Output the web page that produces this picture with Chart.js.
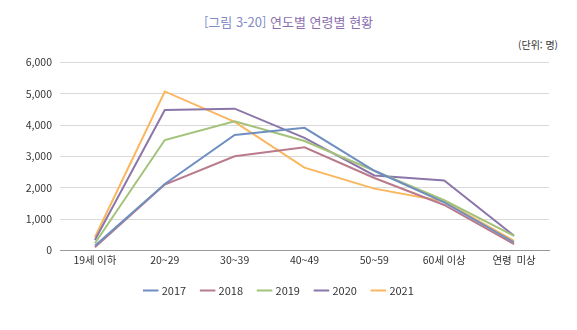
<!DOCTYPE html>
<html lang="ko">
<head>
<meta charset="utf-8">
<script src="https://cdn.jsdelivr.net/npm/chart.js@4.4.0/dist/chart.umd.min.js"></script>
<style>
    html, body { margin: 0; padding: 0; background: #fff; }
    #wrap { position: relative; width: 577px; height: 330px; }
    #title {
        position: absolute; left: 0; top: 12px; width: 577px; text-align: center;
        font-family: 'Noto Sans CJK KR', sans-serif; font-size: 13px; color: #8a6fb0;
    }
    #title span { color: #7f8cc8; }
    #unit {
        position: absolute; right: 19px; top: 37px;
        font-family: 'Noto Sans CJK KR', sans-serif; font-size: 10px; color: #333;
    }
    #chart { position: absolute; left: 0; top: 48px; }
</style>
</head>
<body>
<div id="wrap">
    <div id="title"><span>[그림 3-20]</span> 연도별 연령별 현황</div>
    <div id="unit">(단위: 명)</div>
    <canvas id="chart" width="577" height="258"></canvas>
</div>
<script>
    'use strict';

    // ========================================
    // DATA
    // ========================================

    const categories = ['19세 이하', '20~29', '30~39', '40~49', '50~59', '60세 이상', '연령  미상'];
    const years = ['2017', '2018', '2019', '2020', '2021'];

    const values2017 = [150, 2120, 3680, 3910, 2540, 1530, 260];
    const values2018 = [100, 2100, 3000, 3290, 2310, 1450, 200];
    const values2019 = [230, 3520, 4120, 3490, 2540, 1600, 460];
    const values2020 = [330, 4480, 4520, 3590, 2390, 2230, 470];
    const values2021 = [420, 5070, 4100, 2640, 1970, 1560, 300];

    const yTicks = [0, 1000, 2000, 3000, 4000, 5000, 6000];

    const lineColors = ['#6f8fc0', '#b97b8c', '#a3c27a', '#8b76aa', '#fbb660'];

    // ========================================
    // CHART
    // ========================================

    const seriesValues = [values2017, values2018, values2019, values2020, values2021];

    const datasets = years.map((year, i) => ({
        label: year,
        data: seriesValues[i],
        borderColor: lineColors[i],
        backgroundColor: lineColors[i],
        borderWidth: 2,
        pointRadius: 0,
        tension: 0,
        fill: false
    }));

    new Chart(document.getElementById('chart'), {
        type: 'line',
        data: { labels: categories, datasets: datasets },
        options: {
            responsive: false,
            animation: false,
            layout: { padding: { left: 10, right: 28, top: 0, bottom: 0 } },
            plugins: {
                legend: {
                    position: 'bottom',
                    labels: {
                        usePointStyle: true,
                        pointStyle: 'line',
                        boxWidth: 26,
                        padding: 16,
                        color: '#333',
                        font: { family: "'Noto Sans CJK KR', sans-serif", size: 11 }
                    }
                },
                tooltip: { enabled: false }
            },
            scales: {
                x: {
                    offset: true,
                    grid: { display: false, drawTicks: false },
                    border: { color: '#999' },
                    ticks: {
                        padding: 3,
                        maxRotation: 0,
                        color: '#333',
                        font: { family: "'Noto Sans CJK KR', sans-serif", size: 10.5 }
                    }
                },
                y: {
                    min: 0,
                    max: 6000,
                    afterBuildTicks: (axis) => { axis.ticks = yTicks.map(v => ({ value: v })); },
                    afterFit: (axis) => { axis.width = 50; },
                    grid: { color: '#d9d9d9', drawTicks: false },
                    border: { display: false },
                    ticks: {
                        padding: 8,
                        color: '#333',
                        font: { family: "'Noto Sans CJK KR', sans-serif", size: 10.5 },
                        callback: (v) => v.toLocaleString('en-US')
                    }
                }
            }
        }
    });
</script>
</body>
</html>
